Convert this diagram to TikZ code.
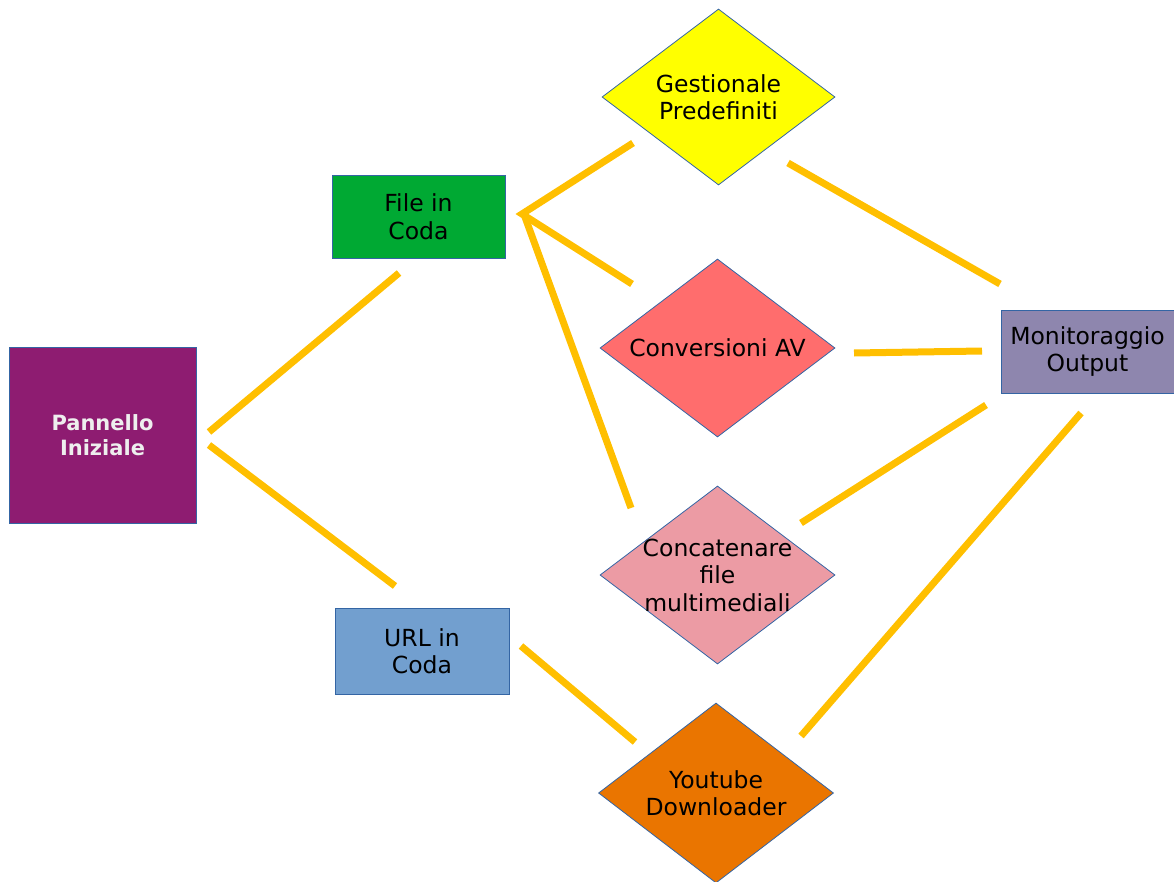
\documentclass[tikz,border=0pt]{standalone}
\usepackage{fontspec}
\setmainfont{DejaVu Sans}
\usetikzlibrary{shapes.geometric}
\definecolor{cPurple}{HTML}{8E1C71}
\definecolor{cGreen}{HTML}{00A933}
\definecolor{cBlue}{HTML}{729FCF}
\definecolor{cMon}{HTML}{8E86AE}
\definecolor{cYellow}{HTML}{FFFF00}
\definecolor{cRed}{HTML}{FF6D6D}
\definecolor{cPink}{HTML}{EC9BA4}
\definecolor{cOrange}{HTML}{EA7500}
\definecolor{cLine}{HTML}{FFBF00}
\definecolor{cBorder}{HTML}{3465A4}
\definecolor{cLight}{HTML}{EEEEEE}
\tikzset{
  box/.style={rectangle, draw=cBorder, line width=0.8pt, inner sep=2pt, align=center,
    font=\fontsize{23.5}{27.5}\selectfont},
  dia/.style={diamond, draw=cBorder, line width=0.8pt, inner sep=0pt},
  diatext/.style={align=center, inner sep=0pt, font=\fontsize{23.5}{27.5}\selectfont},
  link/.style={draw=cLine, line width=7pt, line cap=butt}
}
\begin{document}
\begin{tikzpicture}[x=1pt,y=-1pt]
\useasboundingbox (0,0) rectangle (1174,882);
% boxes
\node[box, fill=cPurple, text=cLight, minimum width=187pt, minimum height=176pt,
  font=\fontsize{21}{24.5}\selectfont\bfseries] (pan) at (102.5,435) {Pannello\\Iniziale};
\node[box, fill=cGreen, minimum width=173pt, minimum height=83pt] (file) at (418.5,216.5) {File in\\Coda};
\node[box, fill=cBlue, minimum width=174pt, minimum height=86pt] (url) at (422,651) {URL in\\Coda};
\node[box, fill=cMon, minimum width=173pt, minimum height=83pt] (mon) at (1087.5,351.5) {Monitoraggio\\Output};
% diamonds
\node[dia, fill=cYellow, minimum width=233pt, minimum height=176pt] (ges) at (718.5,97) {};
\node[diatext] (gest) at (ges.center) {Gestionale\\Predefiniti};
\node[dia, fill=cRed, minimum width=235pt, minimum height=178pt] (conv) at (717.5,348) {};
\node[diatext] (convt) at (conv.center) {Conversioni AV};
\node[dia, fill=cPink, minimum width=235pt, minimum height=178pt] (conc) at (717.5,575) {};
\node[diatext] (conct) at (conc.center) {Concatenare\\file\\multimediali};
\node[dia, fill=cOrange, minimum width=235pt, minimum height=180pt] (yt) at (716,793) {};
\node[diatext] (ytt) at (yt.center) {Youtube\\Downloader};
% connector end points
\coordinate (p1a) at (209,432); \coordinate (p1b) at (399,273);
\coordinate (p2a) at (209,445); \coordinate (p2b) at (395,586);
\coordinate (hub) at (522,214);
\coordinate (hub2) at (525,217);
\coordinate (p3b) at (633,143);
\coordinate (p4b) at (632,284);
\coordinate (p5b) at (631,508);
\coordinate (p6a) at (788,163); \coordinate (p6b) at (1000,284);
\coordinate (p7a) at (854,353); \coordinate (p7b) at (982,351);
\coordinate (p8a) at (801,523); \coordinate (p8b) at (986,405);
\coordinate (p9a) at (521,646); \coordinate (p9b) at (635,742);
\coordinate (p10a) at (801,736); \coordinate (p10b) at (1081,413);
% connectors
\draw[link] (p1a) -- (p1b);
\draw[link] (p2a) -- (p2b);
\draw[link] (p3b) -- (hub) -- (p4b);
\draw[link] (hub2) -- (p5b);
\draw[link] (p6a) -- (p6b);
\draw[link] (p7a) -- (p7b);
\draw[link] (p8a) -- (p8b);
\draw[link] (p9a) -- (p9b);
\draw[link] (p10a) -- (p10b);
\end{tikzpicture}
\end{document}
